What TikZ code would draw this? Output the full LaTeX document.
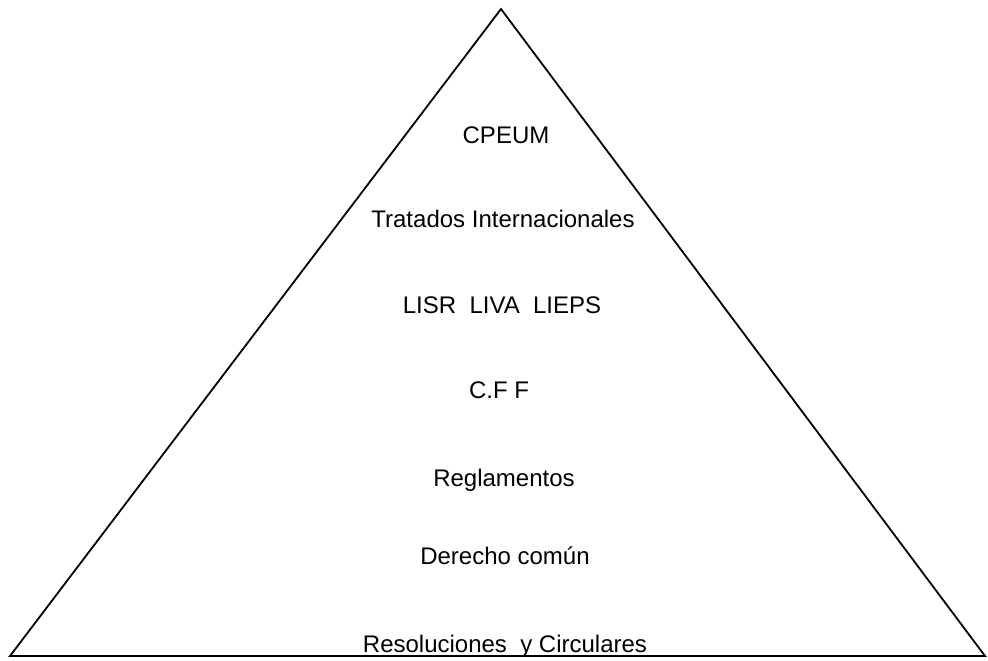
\documentclass[tikz,border=0pt]{standalone}
\usepackage{fontspec}
\setmainfont{Liberation Sans}
\usepackage{tikz}
\usetikzlibrary{positioning}

\begin{document}
\begin{tikzpicture}[x=1pt, y=-1pt,
    level/.style={anchor=base, inner sep=0pt, font=\fontsize{24}{28}\selectfont},
    edge/.style={line width=1.8pt, line join=miter}]
\useasboundingbox (0,0) rectangle (988,661);
\coordinate (apex) at (501,9);
\coordinate (left) at (10,656);
\coordinate (right) at (985,656);
\draw[edge] (left) -- (apex) -- (right) -- cycle;

\node[level] (cpeum) at (506,143) {CPEUM};
\node[level] (tratados) at (503,227) {Tratados Internacionales};
\node[level] (leyes) at (502,313) {LISR\ \ LIVA\ \ LIEPS};
\node[level] (cff) at (499,398) {C.F F};
\node[level] (reglamentos) at (504,486) {Reglamentos};
\node[level] (derecho) at (505,564) {Derecho común};
\node[level] (resoluciones) at (505,652) {Resoluciones\ \ y Circulares};
\end{tikzpicture}
\end{document}
